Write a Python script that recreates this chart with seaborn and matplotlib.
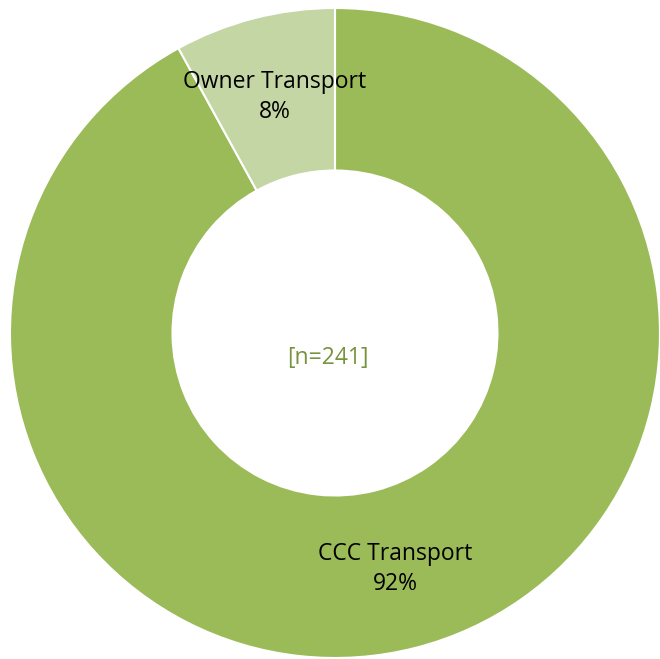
import numpy as np
import matplotlib
matplotlib.use("Agg")
import matplotlib.pyplot as plt
import seaborn as sns

# data
categories = ["CCC Transport", "Owner Transport"]
shares = [92, 8]
n_total = 241

sns.set_theme(style="white")
plt.rcParams['font.family'] = ['Open Sans', 'DejaVu Sans']

colors = ["#9BBB59", "#C4D6A4"]

fig = plt.figure(figsize=(6.60, 6.59), dpi=100)
ax = fig.add_axes([0, 0, 1, 1])

R = 325.0
wedges, _ = ax.pie(
    shares, colors=colors, startangle=90, counterclock=False,
    radius=1.0, wedgeprops=dict(width=0.5, edgecolor="white", linewidth=1.5),
)

# labels in the middle of the ring
for w, name, val in zip(wedges, categories, shares):
    ang = np.deg2rad((w.theta1 + w.theta2) / 2)
    r = 0.75
    ax.text(r * np.cos(ang), r * np.sin(ang), f"{name}\n{val}%",
            ha="center", va="center", fontsize=16.5, color="black",
            linespacing=1.3)

ax.text(-7 / R, -25 / R, f"[n={n_total}]", ha="center", va="center",
        fontsize=16.5, color="#77933C")

ax.set_xlim(-335 / R, (660 - 335) / R)
ax.set_ylim(-326 / R, 333 / R)
ax.set_aspect("equal")
ax.axis("off")

plt.savefig("out.png", dpi=100)
plt.close()
